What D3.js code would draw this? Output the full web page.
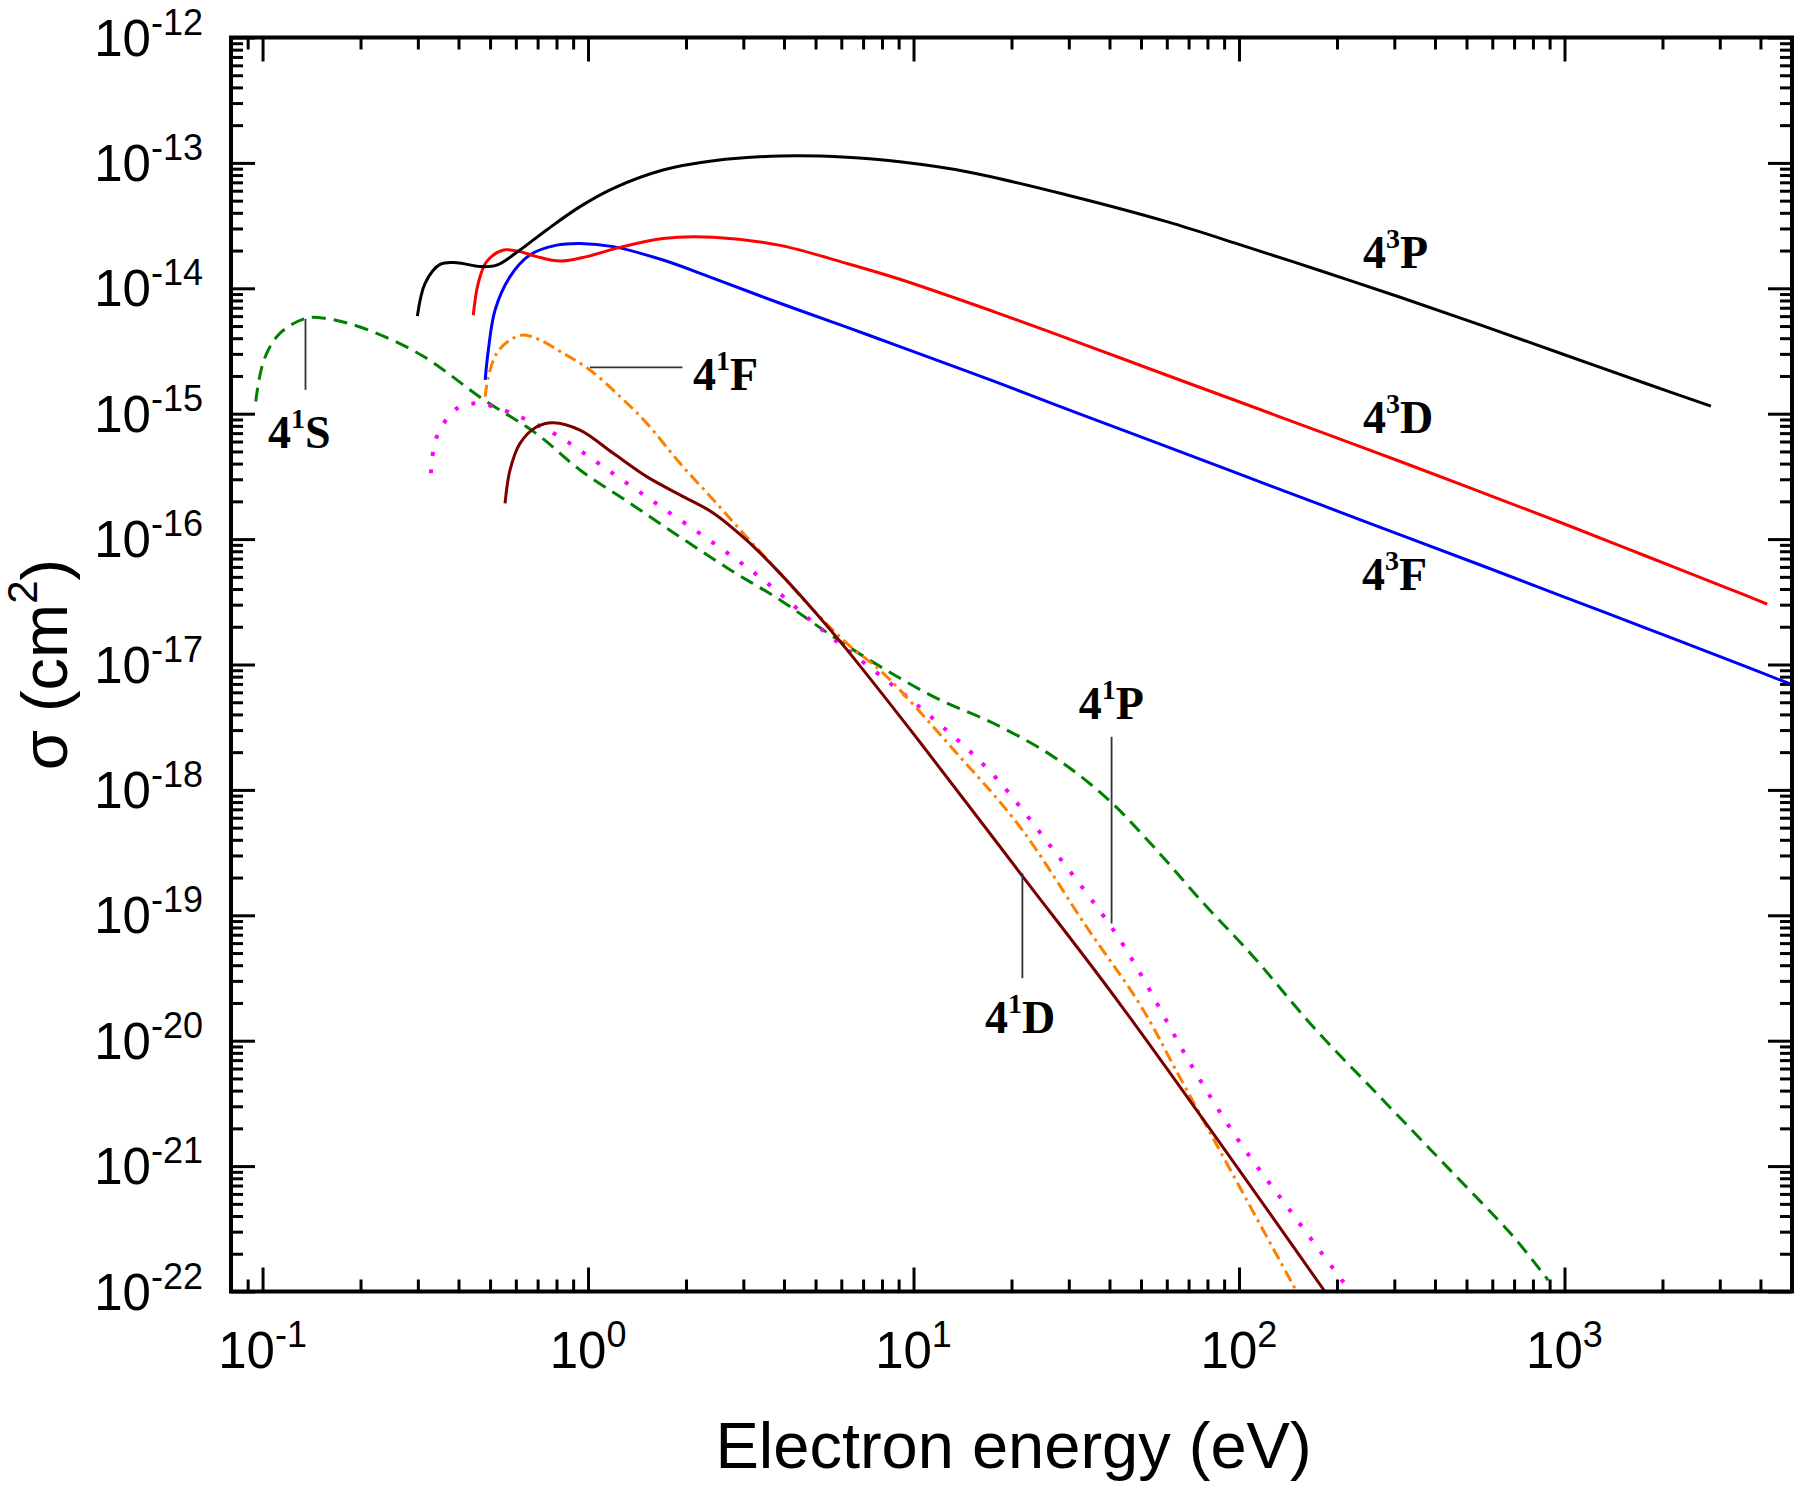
<!DOCTYPE html>
<html>
<head>
<meta charset="utf-8">
<script src="https://cdn.jsdelivr.net/npm/d3@7"></script>
<style>
  html, body { margin: 0; padding: 0; background: #fff; }
  svg { display: block; }
</style>
</head>
<body>
<svg id="chart" width="1800" height="1491"></svg>
<script>
// ---------------- data (energy eV, cross section cm^2) ----------------
const xDomain = [0.08, 5000];
const yDomain = [1e-22, 1e-12];
const xMajorTicks = [0.1, 1, 10, 100, 1000];
const xTickExps = ["-1", "0", "1", "2", "3"];
const yMajorTicks = [1e-12, 1e-13, 1e-14, 1e-15, 1e-16, 1e-17, 1e-18, 1e-19, 1e-20, 1e-21, 1e-22];
const yTickExps = ["-12", "-13", "-14", "-15", "-16", "-17", "-18", "-19", "-20", "-21", "-22"];

const s43P = [[0.299,6.0e-15],[0.316,1.1e-14],[0.351,1.55e-14],[0.395,1.6e-14],[0.466,1.49e-14],[0.524,1.53e-14],
  [0.618,2.02e-14],[0.746,2.92e-14],[0.945,4.48e-14],[1.196,6.27e-14],[1.70,8.77e-14],[2.43,1.04e-13],[3.89,1.135e-13],
  [6.23,1.11e-13],[9.08,1.02e-13],[14.6,8.5e-14],[29.6,5.55e-14],[60,3.4e-14],[100,2.24e-14],[178,1.38e-14],
  [316,8.41e-15],[562,5.01e-15],[1000,2.95e-15],[1778,1.74e-15],[2818,1.15e-15]];
const s43D = [[0.444,6.1e-15],[0.46,1.1e-14],[0.488,1.63e-14],[0.55,2.02e-14],[0.618,1.96e-14],[0.696,1.79e-14],
  [0.82,1.65e-14],[0.99,1.79e-14],[1.254,2.12e-14],[1.70,2.5e-14],[2.43,2.55e-14],[3.89,2.2e-14],[6.23,1.58e-14],
  [9.08,1.18e-14],[17.8,6.46e-15],[31.6,3.76e-15],[56.2,2.16e-15],[100,1.245e-15],[178,7.16e-16],[316,4.12e-16],
  [562,2.34e-16],[1000,1.32e-16],[1778,7.33e-17],[3162,4.07e-17],[4197,3.03e-17]];
const s43F = [[0.483,1.86e-15],[0.494,3.22e-15],[0.518,6.7e-15],[0.576,1.24e-14],[0.664,1.85e-14],[0.801,2.21e-14],
  [0.945,2.28e-14],[1.196,2.15e-14],[1.70,1.68e-14],[2.43,1.2e-14],[3.89,7.6e-15],[6.23,4.9e-15],[9.08,3.43e-15],
  [17.8,1.8e-15],[31.6,1.02e-15],[56.2,5.82e-16],[100,3.31e-16],[178,1.88e-16],[316,1.07e-16],[562,6.1e-17],
  [1000,3.45e-17],[1778,1.95e-17],[3162,1.1e-17],[5000,6.9e-18]];
const s41F = [[0.483,1.37e-15],[0.494,1.97e-15],[0.524,3.03e-15],[0.576,3.87e-15],[0.633,4.25e-15],[0.712,3.87e-15],
  [0.84,3.03e-15],[1.014,2.23e-15],[1.254,1.37e-15],[1.515,8.4e-16],[1.917,4.02e-16],[2.43,2.05e-16],[3.07,1.04e-16],
  [3.89,5.33e-17],[4.92,2.72e-17],[6.23,1.48e-17],[8.08,8.5e-18],[13.3,2.08e-18],[21.2,5.1e-19],[34.0,8.1e-20],
  [49.7,1.93e-20],[65.9,5.07e-21],[150.3,1.0e-22]];
const s41P = [[0.329,3.35e-16],[0.343,6.56e-16],[0.395,1.1e-15],[0.455,1.21e-15],[0.512,1.14e-15],[0.633,9.2e-16],
  [0.801,6.76e-16],[0.99,4.68e-16],[1.254,3.05e-16],[1.70,1.76e-16],[2.43,9.3e-17],[3.46,4.72e-17],[5.16,1.95e-17],
  [10.7,4.33e-18],[17.2,1.4e-18],[26.9,3.32e-19],[41.1,7.65e-20],[50.2,3.3e-20],[70.8,6.6e-21],[100,1.58e-21],
  [141,4.7e-22],[215,1.08e-22]];
const s41D = [[0.556,1.93e-16],[0.576,3.56e-16],[0.618,5.8e-16],[0.696,7.87e-16],[0.782,8.48e-16],[0.945,7.4e-16],
  [1.196,4.83e-16],[1.515,3.15e-16],[1.917,2.25e-16],[2.43,1.61e-16],[3.07,9.8e-17],[3.89,5.33e-17],[4.92,2.72e-17],
  [6.23,1.32e-17],[10.47,2.4e-18],[21.2,2.19e-19],[43.1,1.96e-20],[183.6,1.0e-22]];
const s41S = [[0.0953,1.25e-15],[0.101,2.68e-15],[0.113,4.37e-15],[0.136,5.76e-15],[0.156,5.76e-15],[0.2046,4.8e-15],
  [0.307,2.94e-15],[0.475,1.31e-15],[0.692,6.97e-16],[0.945,3.56e-16],[1.346,1.93e-16],[1.917,1.04e-16],[2.73,5.7e-17],
  [3.89,3.27e-17],[5.6,1.7e-17],[8.08,9.3e-18],[11.8,5.37e-18],[17.6,3.4e-18],[26.9,1.84e-18],[39.2,8.6e-19],
  [54.6,3.53e-19],[77.7,1.25e-19],[110.7,4.68e-20],[169,1.29e-20],[271,3.57e-21],[435,9.9e-22],[697,2.73e-22],[891,1.23e-22]];

// labels: main digit, superscript, letter, and anchor (energy, sigma) = left / baseline
const labelMain = ["4","4","4","4","4","4","4"];
const labelSup = ["3","3","3","1","1","1","1"];
const labelLetter = ["P","D","F","F","P","D","S"];
const labelAt = [[240.4,1.45e-14],[240.4,7.02e-16],[238.8,3.93e-17],[2.10,1.55e-15],[32.2,3.67e-18],[16.58,1.15e-20],[0.104,5.32e-16]];
// leader lines [[e1,s1],[e2,s2]]
const leaders = [
  [[0.1355,5.7e-15],[0.1355,1.55e-15]],
  [[1.014,2.34e-15],[1.95,2.34e-15]],
  [[40.6,2.65e-18],[40.6,8.6e-20]],
  [[21.6,2.16e-19],[21.6,3.15e-20]]
];

// ---------------- drawing ----------------
const svg = d3.select("#chart");
const W = 1800, H = 1491;
svg.append("rect").attr("width", W).attr("height", H).attr("fill", "#fff");

const x = d3.scaleLog().domain(xDomain).range([231, 1792]);
const y = d3.scaleLog().domain(yDomain).range([1291.5, 37.5]);
const [x0, x1] = x.range();
const [y1, y0] = y.range();

// minor ticks
const xMinor = [];
for (let e = -2; e <= 3; e++) for (let k = 2; k <= 9; k++) {
  const v = k * Math.pow(10, e);
  if (v > xDomain[0] * 1.0001 && v < xDomain[1] * 0.9999) xMinor.push(v);
}
const yMinor = [];
for (let e = -22; e <= -13; e++) for (let k = 2; k <= 9; k++) yMinor.push(k * Math.pow(10, e));

svg.append("defs").append("clipPath").attr("id", "plotclip")
  .append("rect").attr("x", x0).attr("y", y0).attr("width", x1 - x0).attr("height", y1 - y0);

const MAJ = 24, MIN = 12;
function styleAxis(g) {
  g.select(".domain").remove();
  g.selectAll(".tick line").attr("stroke", "#000").attr("stroke-width", 3);
  g.selectAll(".tick text").remove();
}
const axes = svg.append("g");
[[xMajorTicks, MAJ], [xMinor, MIN]].forEach(([vals, len]) => {
  axes.append("g").attr("transform", `translate(0,${y1})`)
    .call(d3.axisBottom(x).tickValues(vals).tickSize(-len).tickFormat("")).call(styleAxis);
  axes.append("g").attr("transform", `translate(0,${y0})`)
    .call(d3.axisTop(x).tickValues(vals).tickSize(-len).tickFormat("")).call(styleAxis);
});
[[yMajorTicks, MAJ], [yMinor, MIN]].forEach(([vals, len]) => {
  axes.append("g").attr("transform", `translate(${x0},0)`)
    .call(d3.axisLeft(y).tickValues(vals).tickSize(-len).tickFormat("")).call(styleAxis);
  axes.append("g").attr("transform", `translate(${x1},0)`)
    .call(d3.axisRight(y).tickValues(vals).tickSize(-len).tickFormat("")).call(styleAxis);
});

// curves
const line = d3.line().x(d => x(d[0])).y(d => y(d[1])).curve(d3.curveCatmullRom.alpha(0.5));
const plot = svg.append("g").attr("clip-path", "url(#plotclip)");
const styles = [
  { data: s41S, color: "#008000", dash: "14,8", w: 3 },
  { data: s41P, color: "#ff00ff", dash: "4,13.5", w: 4 },
  { data: s41F, color: "#ff8000", dash: "12,5,3,5", w: 3 },
  { data: s41D, color: "#7a0000", dash: null, w: 3 },
  { data: s43F, color: "#0000ff", dash: null, w: 3 },
  { data: s43D, color: "#ff0000", dash: null, w: 3 },
  { data: s43P, color: "#000000", dash: null, w: 3 }
];
styles.forEach(s => {
  const p = plot.append("path").attr("d", line(s.data)).attr("fill", "none")
    .attr("stroke", s.color).attr("stroke-width", s.w).attr("stroke-linejoin", "round");
  if (s.dash) p.attr("stroke-dasharray", s.dash);
});

// frame
svg.append("rect").attr("x", x0).attr("y", y0).attr("width", x1 - x0).attr("height", y1 - y0)
  .attr("fill", "none").attr("stroke", "#000").attr("stroke-width", 4);

// leaders
leaders.forEach(l => {
  svg.append("line").attr("x1", x(l[0][0])).attr("y1", y(l[0][1]))
    .attr("x2", x(l[1][0])).attr("y2", y(l[1][1]))
    .attr("stroke", "#333").attr("stroke-width", 1.8);
});

// curve labels
labelMain.forEach((m, i) => {
  const t = svg.append("text").attr("x", x(labelAt[i][0])).attr("y", y(labelAt[i][1]))
    .attr("font-family", "'Liberation Serif', 'Times New Roman', serif").attr("font-weight", "bold")
    .attr("font-size", 46).attr("fill", "#000");
  t.append("tspan").text(m);
  t.append("tspan").attr("font-size", 28).attr("dy", -20).text(labelSup[i]);
  t.append("tspan").attr("dy", 20).text(labelLetter[i]);
});

// tick labels
const tickFont = "'Liberation Sans', Arial, Helvetica, sans-serif";
yMajorTicks.forEach((v, i) => {
  const t = svg.append("text").attr("x", 203).attr("y", y(v) + 18).attr("text-anchor", "end")
    .attr("font-family", tickFont).attr("font-size", 51).attr("fill", "#000");
  t.append("tspan").text("10");
  t.append("tspan").attr("font-size", 36).attr("dy", -21).text(yTickExps[i]);
});
xMajorTicks.forEach((v, i) => {
  const t = svg.append("text").attr("x", x(v)).attr("y", 1368).attr("text-anchor", "middle")
    .attr("font-family", tickFont).attr("font-size", 51).attr("fill", "#000");
  t.append("tspan").text("10");
  t.append("tspan").attr("font-size", 36).attr("dy", -21).text(xTickExps[i]);
});

// axis titles
svg.append("text").attr("x", (x0 + x1) / 2 + 2).attr("y", 1468).attr("text-anchor", "middle")
  .attr("font-family", tickFont).attr("font-size", 65).attr("fill", "#000").text("Electron energy (eV)");
const yt = svg.append("text").attr("transform", `translate(67,${(y0 + y1) / 2}) rotate(-90)`)
  .attr("text-anchor", "middle").attr("font-family", tickFont).attr("font-size", 65).attr("fill", "#000");
yt.append("tspan").text("σ (cm");
yt.append("tspan").attr("font-size", 42).attr("dy", -30).text("2");
yt.append("tspan").attr("dy", 30).text(")");
</script>
</body>
</html>
